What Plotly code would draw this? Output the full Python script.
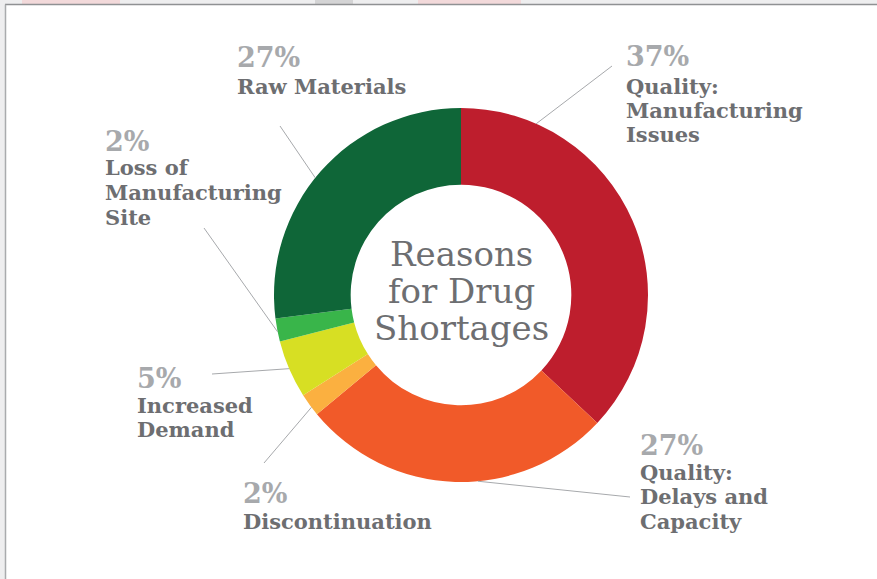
import math
import plotly.graph_objects as go

# ---------------- data ----------------
categories = [
    "Quality: Manufacturing Issues",
    "Quality: Delays and Capacity",
    "Discontinuation",
    "Increased Demand",
    "Loss of Manufacturing Site",
    "Raw Materials",
]
values = [37, 27, 2, 5, 2, 27]
label_lines = [
    ["Quality:", "Manufacturing", "Issues"],
    ["Quality:", "Delays and", "Capacity"],
    ["Discontinuation"],
    ["Increased", "Demand"],
    ["Loss of", "Manufacturing", "Site"],
    ["Raw Materials"],
]
center_lines = ["Reasons", "for Drug", "Shortages"]

# ---------------- styles / layout ----------------
colors = ["#BE1E2D", "#F15A29", "#FBB040", "#D7DF23", "#39B54A", "#0F6638"]
PCT_COLOR = "#A7A9AC"
TXT_COLOR = "#6D6E71"
LINE_COLOR = "#A7A9AC"
FONT = "DejaVu Serif"

W, H = 877, 579
CX, CY, R = 461, 295, 187
HOLE = 0.59

# label block positions in pixels: (x_left, y_pct_center, y_first_line_center, spacing)
label_pos = [
    (626, 56, 86, 24.5),
    (640, 445, 472, 24.5),
    (243, 493, 521, 24.5),
    (137, 378, 405, 24),
    (105, 141, 168, 24.5),
    (237, 57, 87, 24.5),
]
# leader lines: (angle in degrees clockwise from 12 o'clock on the ring, end x, end y) in pixels
leaders = [
    (23.7, 612, 66),
    (174.8, 630, 497),
    (233.1, 264, 463),
    (246.8, 212, 374),
    (258.6, 204, 228),
    (308.8, 280, 126),
]


def px(x):
    return x / W


def py(y):
    return 1 - y / H


fig = go.Figure()
fig.add_trace(
    go.Pie(
        labels=categories,
        values=values,
        hole=HOLE,
        sort=False,
        direction="clockwise",
        rotation=0,
        marker=dict(colors=colors, line=dict(width=0)),
        textinfo="none",
        hoverinfo="label+percent",
        showlegend=False,
        domain=dict(x=[px(CX - R), px(CX + R)], y=[py(CY + R), py(CY - R)]),
    )
)

shapes = []
# header strip and frame
shapes.append(dict(type="rect", xref="paper", yref="paper", x0=0, x1=1, y0=py(4), y1=1,
                   fillcolor="#EEEEEF", line=dict(width=0), layer="below"))
for (a, b, c) in [(22, 120, "#F2D9DA"), (315, 353, "#D4D4D5"), (418, 521, "#F2D9DA")]:
    shapes.append(dict(type="rect", xref="paper", yref="paper", x0=px(a), x1=px(b), y0=py(4), y1=1,
                       fillcolor=c, line=dict(width=0), layer="below"))
shapes.append(dict(type="rect", xref="paper", yref="paper", x0=0, x1=px(5), y0=0, y1=1,
                   fillcolor="#EEEEEF", line=dict(width=0), layer="below"))
shapes.append(dict(type="line", xref="paper", yref="paper", x0=px(5), x1=1, y0=py(4.5), y1=py(4.5),
                   line=dict(color="#8F9193", width=1.5)))
shapes.append(dict(type="line", xref="paper", yref="paper", x0=px(5.5), x1=px(5.5), y0=0, y1=py(4.5),
                   line=dict(color="#A9ABAD", width=1.5)))

# leader lines
for ang, ex, ey in leaders:
    t = math.radians(ang)
    sx = CX + R * math.sin(t)
    sy = CY - R * math.cos(t)
    shapes.append(dict(type="line", xref="paper", yref="paper",
                       x0=px(sx), y0=py(sy), x1=px(ex), y1=py(ey),
                       line=dict(color=LINE_COLOR, width=1)))

annotations = []
for v, lines, (x, ypct, yfirst, sp) in zip(values, label_lines, label_pos):
    annotations.append(dict(text=f"{v}%", x=px(x - 2), y=py(ypct), xref="paper", yref="paper",
                            xanchor="left", yanchor="middle", showarrow=False,
                            font=dict(family=FONT, size=27, color=PCT_COLOR, weight="bold")))
    for i, ln in enumerate(lines):
        annotations.append(dict(text=ln, x=px(x - 2), y=py(yfirst + i * sp), xref="paper", yref="paper",
                                xanchor="left", yanchor="middle", showarrow=False,
                                font=dict(family=FONT, size=21, color=TXT_COLOR, weight="bold")))

for i, ln in enumerate(center_lines):
    annotations.append(dict(text=ln, x=px(CX), y=py(254 + i * 37), xref="paper", yref="paper",
                            xanchor="center", yanchor="middle", showarrow=False,
                            font=dict(family=FONT, size=34, color=TXT_COLOR)))

fig.update_layout(
    width=W,
    height=H,
    margin=dict(l=0, r=0, t=0, b=0),
    paper_bgcolor="white",
    plot_bgcolor="white",
    shapes=shapes,
    annotations=annotations,
)

fig.write_html("out.html")
